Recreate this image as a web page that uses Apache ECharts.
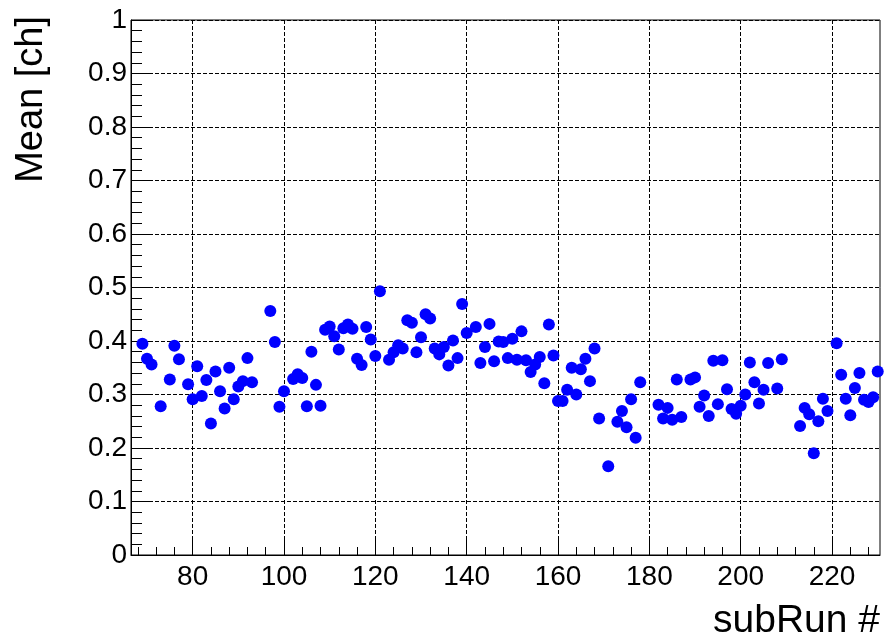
<!DOCTYPE html>
<html>
<head>
<meta charset="utf-8">
<script src="https://cdn.jsdelivr.net/npm/echarts@6/dist/echarts.min.js"></script>
<style>
  html, body { margin: 0; padding: 0; background: #fff; }
  #chart { width: 885px; height: 642px; }
</style>
</head>
<body>
<div id="chart"></div>
<script>
// subRun numbers and their mean values
const subRun = [
  69, 70, 71, 73, 75, 76, 77, 79, 80, 81, 82, 83, 84, 85, 86, 87, 88, 89, 90, 91, 92, 93,
  97, 98, 99, 100, 102, 103, 104, 105, 106, 107, 108, 109, 110, 111, 112, 113, 114, 115,
  116, 117, 118, 119, 120, 121, 123, 124, 125, 126, 127, 128, 129, 130, 131, 132, 133, 134,
  135, 136, 137, 138, 139, 140, 142, 143, 144, 145, 146, 147, 148, 149, 150, 151, 152, 153,
  154, 155, 156, 157, 158, 159, 160, 161, 162, 163, 164, 165, 166, 167, 168, 169, 171, 173,
  174, 175, 176, 177, 178, 182, 183, 184, 185, 186, 187, 189, 190, 191, 192, 193, 194, 195,
  196, 197, 198, 199, 200, 201, 202, 203, 204, 205, 206, 208, 209, 213, 214, 215, 216, 217,
  218, 219, 221, 222, 223, 224, 225, 226, 227, 228, 229, 230
];
const meanCh = [
  0.395, 0.367, 0.356, 0.278, 0.328, 0.391, 0.366, 0.319, 0.291, 0.353, 0.297, 0.327, 0.246, 0.343, 0.306, 0.274, 0.350, 0.291, 0.315, 0.325, 0.368, 0.323,
  0.456, 0.398, 0.277, 0.306, 0.329, 0.338, 0.331, 0.278, 0.380, 0.318, 0.279, 0.421, 0.427, 0.409, 0.384, 0.424, 0.431, 0.423,
  0.367, 0.355, 0.426, 0.403, 0.372, 0.493, 0.365, 0.379, 0.392, 0.386, 0.439, 0.434, 0.379, 0.407, 0.450, 0.442, 0.386, 0.375,
  0.389, 0.354, 0.401, 0.368, 0.469, 0.415, 0.426, 0.359, 0.389, 0.432, 0.362, 0.399, 0.398, 0.368, 0.404, 0.365, 0.418, 0.364,
  0.342, 0.356, 0.370, 0.321, 0.431, 0.373, 0.288, 0.288, 0.309, 0.350, 0.300, 0.347, 0.367, 0.325, 0.386, 0.255, 0.166, 0.249,
  0.269, 0.239, 0.291, 0.219, 0.323, 0.281, 0.255, 0.275, 0.253, 0.328, 0.258, 0.328, 0.332, 0.277, 0.298, 0.260, 0.363, 0.282,
  0.364, 0.310, 0.273, 0.264, 0.279, 0.300, 0.360, 0.323, 0.283, 0.309, 0.359, 0.311, 0.366, 0.241, 0.275, 0.263, 0.190, 0.250,
  0.292, 0.269, 0.396, 0.337, 0.292, 0.261, 0.312, 0.340, 0.290, 0.286, 0.295, 0.343
];

// x axis ticks
const xMajorTicks = [80, 100, 120, 140, 160, 180, 200, 220];
const xMinorTicks = [
  68, 72, 76, 84, 88, 92, 96, 104, 108, 112, 116, 124, 128, 132, 136, 144, 148, 152, 156,
  164, 168, 172, 176, 184, 188, 192, 196, 204, 208, 212, 216, 224, 228
];

const FONT = 'Liberation Sans, Arial, sans-serif';
const gridLine = { show: true, lineStyle: { color: '#000', width: 1, type: [4, 2] } };

const chart = echarts.init(document.getElementById('chart'));

const points = subRun.map((x, i) => [x, meanCh[i]]);

chart.setOption({
  animation: false,
  backgroundColor: '#fff',
  grid: {
    left: 131, right: 5, top: 20, bottom: 87,
    show: true, borderColor: '#000', borderWidth: 1, backgroundColor: 'transparent'
  },
  xAxis: [
    {
      type: 'value', min: 66.5, max: 230.5, position: 'bottom',
      axisLine: { show: true, lineStyle: { color: '#000', width: 1 } },
      axisTick: { show: true, inside: true, length: 16, customValues: xMajorTicks, lineStyle: { color: '#000' } },
      axisLabel: { customValues: xMajorTicks, fontSize: 28, color: '#000', margin: 8, fontFamily: FONT },
      splitLine: gridLine
    },
    {
      type: 'value', min: 66.5, max: 230.5, position: 'bottom',
      axisLine: { show: false },
      axisTick: { show: true, inside: true, length: 8, customValues: xMinorTicks, lineStyle: { color: '#000' } },
      axisLabel: { show: false },
      splitLine: { show: false }
    }
  ],
  yAxis: {
    type: 'value', min: 0, max: 1, interval: 0.1,
    axisLine: { show: true, lineStyle: { color: '#000', width: 1 } },
    axisTick: { show: true, inside: true, length: 22, lineStyle: { color: '#000' } },
    minorTick: { show: true, splitNumber: 5, length: 11, lineStyle: { color: '#000' } },
    axisLabel: { fontSize: 28, color: '#000', margin: 4, fontFamily: FONT },
    splitLine: gridLine
  },
  graphic: [
    {
      type: 'text', x: 32, y: 16, rotation: Math.PI / 2,
      style: {
        text: 'Mean [ch]', fontSize: 38, fontFamily: FONT, fill: '#000',
        align: 'right', verticalAlign: 'middle', textAlign: 'right', textVerticalAlign: 'middle'
      }
    },
    {
      type: 'text', x: 880, y: 621,
      style: {
        text: 'subRun #', fontSize: 39, fontFamily: FONT, fill: '#000',
        align: 'right', verticalAlign: 'middle', textAlign: 'right', textVerticalAlign: 'middle'
      }
    }
  ],
  series: [{
    type: 'scatter',
    xAxisIndex: 0,
    data: points,
    symbol: 'circle',
    symbolSize: 12,
    itemStyle: { color: '#0000ff', opacity: 1 }
  }]
});

window.addEventListener('resize', () => chart.resize());
</script>
</body>
</html>
